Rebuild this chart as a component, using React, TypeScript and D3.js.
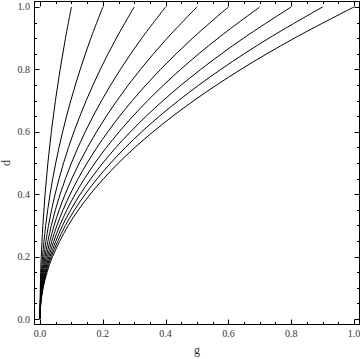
import React from "react";
import * as d3 from "d3";

// d levels shared by all curves
const dLevels = [0, 0.05, 0.1, 0.15, 0.2, 0.3, 0.4, 0.5, 0.6, 0.7, 0.8, 0.9, 1.0];

// g positions of each curve at the d levels above
const curve1 = [0, 0.0003, 0.001, 0.002, 0.004, 0.009, 0.016, 0.025, 0.036, 0.049, 0.064, 0.081, 0.1];
const curve2 = [0, 0.0005, 0.002, 0.0045, 0.008, 0.018, 0.032, 0.05, 0.072, 0.098, 0.128, 0.162, 0.2];
const curve3 = [0, 0.0008, 0.003, 0.007, 0.012, 0.027, 0.048, 0.075, 0.108, 0.147, 0.192, 0.243, 0.3];
const curve4 = [0, 0.001, 0.004, 0.009, 0.016, 0.036, 0.064, 0.1, 0.144, 0.196, 0.256, 0.324, 0.4];
const curve5 = [0, 0.0013, 0.005, 0.011, 0.02, 0.045, 0.08, 0.125, 0.18, 0.245, 0.32, 0.405, 0.5];
const curve6 = [0, 0.0015, 0.006, 0.0135, 0.024, 0.054, 0.096, 0.15, 0.216, 0.294, 0.384, 0.486, 0.6];
const curve7 = [0, 0.0018, 0.007, 0.016, 0.028, 0.063, 0.112, 0.175, 0.252, 0.343, 0.448, 0.567, 0.7];
const curve8 = [0, 0.002, 0.008, 0.018, 0.032, 0.072, 0.128, 0.2, 0.288, 0.392, 0.512, 0.648, 0.8];
const curve9 = [0, 0.0023, 0.009, 0.02, 0.036, 0.081, 0.144, 0.225, 0.324, 0.441, 0.576, 0.729, 0.9];
const curve10 = [0, 0.0025, 0.01, 0.0225, 0.04, 0.09, 0.16, 0.25, 0.36, 0.49, 0.64, 0.81, 1.0];

const curves = [curve1, curve2, curve3, curve4, curve5, curve6, curve7, curve8, curve9, curve10];

const majorTicks = [0, 0.2, 0.4, 0.6, 0.8, 1.0];
const tickLabels = ["0.0", "0.2", "0.4", "0.6", "0.8", "1.0"];
const minorTicks = [0.05, 0.1, 0.15, 0.25, 0.3, 0.35, 0.45, 0.5, 0.55, 0.65, 0.7, 0.75, 0.85, 0.9, 0.95];

const xLabel = "g";
const yLabel = "d";

export default function App() {
  const W = 360;
  const H = 359;
  const left = 34.5, right = 359.5, top = 1.5, bottom = 324.5;
  const pad = 0.0176;
  const x = d3.scaleLinear().domain([-pad, 1 + pad]).range([left, right]);
  const y = d3.scaleLinear().domain([-pad, 1 + pad]).range([bottom, top]);

  const line = d3
    .line<[number, number]>()
    .x((p) => x(p[0]))
    .y((p) => y(p[1]))
    .curve(d3.curveCatmullRom.alpha(0.5));

  const majorLen = 5;
  const minorLen = 2.5;
  const font = "'Liberation Serif', 'DejaVu Serif', serif";
  const textColor = "#333";

  return (
    <svg
      width={W}
      height={H}
      style={{ position: "absolute", left: 0, top: 0, background: "#fff" }}
    >
      <rect x={0} y={0} width={W} height={H} fill="#fff" />
      {curves.map((gs, i) => (
        <path
          key={i}
          d={line(gs.map((g, j) => [g, dLevels[j]] as [number, number])) || ""}
          fill="none"
          stroke="#000"
          strokeWidth={1}
        />
      ))}
      {/* frame */}
      <rect
        x={left}
        y={top}
        width={right - left}
        height={bottom - top}
        fill="none"
        stroke="#000"
        strokeWidth={1}
      />
      {/* ticks */}
      {majorTicks.map((t, i) => {
        const xt = Math.round(x(t)) + 0.5;
        const yt = Math.round(y(t)) + 0.5;
        return (
          <g key={"M" + i} stroke="#000" strokeWidth={1}>
            <line x1={xt} x2={xt} y1={bottom} y2={bottom - majorLen} />
            <line x1={xt} x2={xt} y1={top} y2={top + majorLen} />
            <line x1={left} x2={left + majorLen} y1={yt} y2={yt} />
            <line x1={right} x2={right - majorLen} y1={yt} y2={yt} />
          </g>
        );
      })}
      {minorTicks.map((t, i) => {
        const xt = Math.round(x(t)) + 0.5;
        const yt = Math.round(y(t)) + 0.5;
        return (
          <g key={"m" + i} stroke="#000" strokeWidth={1}>
            <line x1={xt} x2={xt} y1={bottom} y2={bottom - minorLen} />
            <line x1={xt} x2={xt} y1={top} y2={top + minorLen} />
            <line x1={left} x2={left + minorLen} y1={yt} y2={yt} />
            <line x1={right} x2={right - minorLen} y1={yt} y2={yt} />
          </g>
        );
      })}
      {/* tick labels */}
      {majorTicks.map((t, i) => (
        <text
          key={"xl" + i}
          x={x(t)}
          y={337}
          textAnchor="middle"
          fontFamily={font}
          fontSize={10}
          fill={textColor}
        >
          {tickLabels[i]}
        </text>
      ))}
      {majorTicks.map((t, i) => (
        <text
          key={"yl" + i}
          x={30}
          y={y(t) + 3.5}
          textAnchor="end"
          fontFamily={font}
          fontSize={10}
          fill={textColor}
        >
          {tickLabels[i]}
        </text>
      ))}
      <text
        x={(left + right) / 2}
        y={354}
        textAnchor="middle"
        fontFamily={font}
        fontSize={12}
        fill={textColor}
      >
        {xLabel}
      </text>
      <text
        transform={`translate(10, ${(top + bottom) / 2}) rotate(-90)`}
        textAnchor="middle"
        fontFamily={font}
        fontSize={12}
        fill={textColor}
      >
        {yLabel}
      </text>
    </svg>
  );
}
